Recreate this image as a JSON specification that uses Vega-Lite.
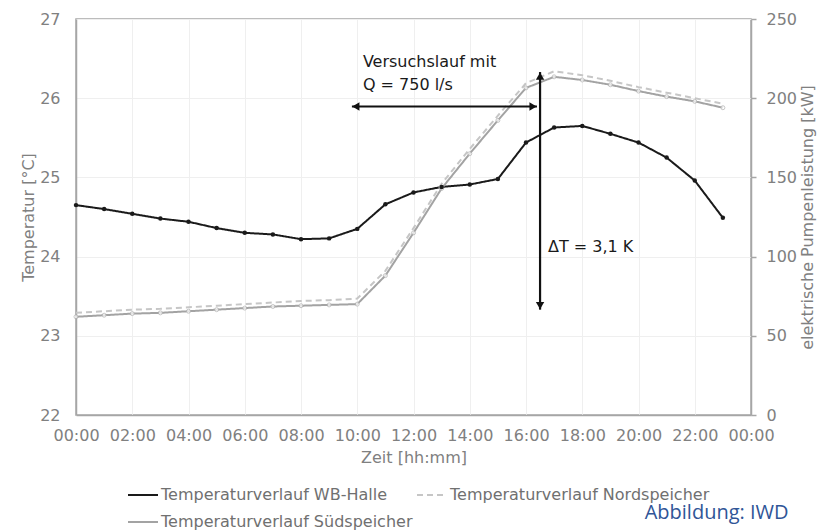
{
  "$schema": "https://vega.github.io/schema/vega-lite/v6.json",
  "width": 675,
  "height": 396,
  "autosize": {"type": "none"},
  "padding": {"left": 76, "top": 19, "right": 77, "bottom": 116},
  "background": "white",
  "title": {
    "text": "Abbildung: IWD",
    "orient": "bottom",
    "anchor": "end",
    "font": "Open Sans",
    "fontSize": 20,
    "fontWeight": "normal",
    "color": "#2f5597",
    "offset": 0,
    "dy": -27,
    "dx": -27
  },
  "config": {
    "font": "DejaVu Sans",
    "view": {"stroke": "#a6a6a6", "strokeWidth": 1.5},
    "axis": {
      "labelFont": "DejaVu Sans",
      "titleFont": "DejaVu Sans",
      "labelFontSize": 16,
      "titleFontSize": 16,
      "labelColor": "#808080",
      "titleColor": "#808080",
      "titleFontWeight": "normal",
      "domainColor": "#a6a6a6",
      "domainWidth": 1.5,
      "gridColor": "#efefef",
      "gridWidth": 1,
      "tickColor": "#a6a6a6",
      "tickWidth": 1.5
    },
    "legend": {
      "orient": "none",
      "legendX": 51,
      "legendY": 460,
      "columns": 2,
      "symbolType": "stroke",
      "symbolSize": 900,
      "symbolStrokeWidth": 2,
      "labelFont": "DejaVu Sans",
      "labelFontSize": 16,
      "labelColor": "#707070",
      "labelOffset": 2,
      "labelLimit": 400,
      "columnPadding": 0,
      "rowPadding": 3
    }
  },
  "datasets": {
    "temps": [
      {"h": 0, "serie": "Temperaturverlauf WB-Halle", "t": 24.65},
      {"h": 1, "serie": "Temperaturverlauf WB-Halle", "t": 24.60},
      {"h": 2, "serie": "Temperaturverlauf WB-Halle", "t": 24.54},
      {"h": 3, "serie": "Temperaturverlauf WB-Halle", "t": 24.48},
      {"h": 4, "serie": "Temperaturverlauf WB-Halle", "t": 24.44},
      {"h": 5, "serie": "Temperaturverlauf WB-Halle", "t": 24.36},
      {"h": 6, "serie": "Temperaturverlauf WB-Halle", "t": 24.30},
      {"h": 7, "serie": "Temperaturverlauf WB-Halle", "t": 24.28},
      {"h": 8, "serie": "Temperaturverlauf WB-Halle", "t": 24.22},
      {"h": 9, "serie": "Temperaturverlauf WB-Halle", "t": 24.23},
      {"h": 10, "serie": "Temperaturverlauf WB-Halle", "t": 24.35},
      {"h": 11, "serie": "Temperaturverlauf WB-Halle", "t": 24.66},
      {"h": 12, "serie": "Temperaturverlauf WB-Halle", "t": 24.81},
      {"h": 13, "serie": "Temperaturverlauf WB-Halle", "t": 24.88},
      {"h": 14, "serie": "Temperaturverlauf WB-Halle", "t": 24.91},
      {"h": 15, "serie": "Temperaturverlauf WB-Halle", "t": 24.98},
      {"h": 16, "serie": "Temperaturverlauf WB-Halle", "t": 25.44},
      {"h": 17, "serie": "Temperaturverlauf WB-Halle", "t": 25.63},
      {"h": 18, "serie": "Temperaturverlauf WB-Halle", "t": 25.65},
      {"h": 19, "serie": "Temperaturverlauf WB-Halle", "t": 25.55},
      {"h": 20, "serie": "Temperaturverlauf WB-Halle", "t": 25.44},
      {"h": 21, "serie": "Temperaturverlauf WB-Halle", "t": 25.25},
      {"h": 22, "serie": "Temperaturverlauf WB-Halle", "t": 24.96},
      {"h": 23, "serie": "Temperaturverlauf WB-Halle", "t": 24.49},
      {"h": 0, "serie": "Temperaturverlauf Nordspeicher", "t": 23.29},
      {"h": 1, "serie": "Temperaturverlauf Nordspeicher", "t": 23.31},
      {"h": 2, "serie": "Temperaturverlauf Nordspeicher", "t": 23.33},
      {"h": 3, "serie": "Temperaturverlauf Nordspeicher", "t": 23.34},
      {"h": 4, "serie": "Temperaturverlauf Nordspeicher", "t": 23.36},
      {"h": 5, "serie": "Temperaturverlauf Nordspeicher", "t": 23.38},
      {"h": 6, "serie": "Temperaturverlauf Nordspeicher", "t": 23.40},
      {"h": 7, "serie": "Temperaturverlauf Nordspeicher", "t": 23.42},
      {"h": 8, "serie": "Temperaturverlauf Nordspeicher", "t": 23.44},
      {"h": 9, "serie": "Temperaturverlauf Nordspeicher", "t": 23.45},
      {"h": 10, "serie": "Temperaturverlauf Nordspeicher", "t": 23.47},
      {"h": 11, "serie": "Temperaturverlauf Nordspeicher", "t": 23.82},
      {"h": 12, "serie": "Temperaturverlauf Nordspeicher", "t": 24.36},
      {"h": 13, "serie": "Temperaturverlauf Nordspeicher", "t": 24.92},
      {"h": 14, "serie": "Temperaturverlauf Nordspeicher", "t": 25.36},
      {"h": 15, "serie": "Temperaturverlauf Nordspeicher", "t": 25.78},
      {"h": 16, "serie": "Temperaturverlauf Nordspeicher", "t": 26.19},
      {"h": 17, "serie": "Temperaturverlauf Nordspeicher", "t": 26.34},
      {"h": 18, "serie": "Temperaturverlauf Nordspeicher", "t": 26.29},
      {"h": 19, "serie": "Temperaturverlauf Nordspeicher", "t": 26.22},
      {"h": 20, "serie": "Temperaturverlauf Nordspeicher", "t": 26.14},
      {"h": 21, "serie": "Temperaturverlauf Nordspeicher", "t": 26.07},
      {"h": 22, "serie": "Temperaturverlauf Nordspeicher", "t": 26.00},
      {"h": 23, "serie": "Temperaturverlauf Nordspeicher", "t": 25.93},
      {"h": 0, "serie": "Temperaturverlauf Südspeicher", "t": 23.24},
      {"h": 1, "serie": "Temperaturverlauf Südspeicher", "t": 23.26},
      {"h": 2, "serie": "Temperaturverlauf Südspeicher", "t": 23.28},
      {"h": 3, "serie": "Temperaturverlauf Südspeicher", "t": 23.29},
      {"h": 4, "serie": "Temperaturverlauf Südspeicher", "t": 23.31},
      {"h": 5, "serie": "Temperaturverlauf Südspeicher", "t": 23.33},
      {"h": 6, "serie": "Temperaturverlauf Südspeicher", "t": 23.35},
      {"h": 7, "serie": "Temperaturverlauf Südspeicher", "t": 23.37},
      {"h": 8, "serie": "Temperaturverlauf Südspeicher", "t": 23.38},
      {"h": 9, "serie": "Temperaturverlauf Südspeicher", "t": 23.39},
      {"h": 10, "serie": "Temperaturverlauf Südspeicher", "t": 23.40},
      {"h": 11, "serie": "Temperaturverlauf Südspeicher", "t": 23.76},
      {"h": 12, "serie": "Temperaturverlauf Südspeicher", "t": 24.30},
      {"h": 13, "serie": "Temperaturverlauf Südspeicher", "t": 24.86},
      {"h": 14, "serie": "Temperaturverlauf Südspeicher", "t": 25.30},
      {"h": 15, "serie": "Temperaturverlauf Südspeicher", "t": 25.72},
      {"h": 16, "serie": "Temperaturverlauf Südspeicher", "t": 26.13},
      {"h": 17, "serie": "Temperaturverlauf Südspeicher", "t": 26.27},
      {"h": 18, "serie": "Temperaturverlauf Südspeicher", "t": 26.23},
      {"h": 19, "serie": "Temperaturverlauf Südspeicher", "t": 26.17},
      {"h": 20, "serie": "Temperaturverlauf Südspeicher", "t": 26.09},
      {"h": 21, "serie": "Temperaturverlauf Südspeicher", "t": 26.02},
      {"h": 22, "serie": "Temperaturverlauf Südspeicher", "t": 25.96},
      {"h": 23, "serie": "Temperaturverlauf Südspeicher", "t": 25.88}
    ],
    "arrows": [
      {"x1": 9.81, "x2": 16.39, "y1": 25.895, "y2": 25.895},
      {"x1": 16.5, "x2": 16.5, "y1": 26.33, "y2": 23.33}
    ],
    "heads": [
      {"x": 9.95, "y": 25.895, "dir": "triangle-left"},
      {"x": 16.25, "y": 25.895, "dir": "triangle-right"},
      {"x": 16.5, "y": 26.28, "dir": "triangle-up"},
      {"x": 16.5, "y": 23.38, "dir": "triangle-down"}
    ],
    "notes": [
      {"x": 10.2, "y": 26.46, "text": "Versuchslauf mit"},
      {"x": 10.2, "y": 26.17, "text": "Q = 750 l/s"},
      {"x": 16.78, "y": 24.12, "text": "ΔT = 3,1 K"}
    ],
    "power": [
      {"h": 0, "kw": 0},
      {"h": 24, "kw": 250}
    ]
  },
  "layer": [
    {
      "layer": [
        {
          "data": {"name": "temps"},
          "mark": {"type": "line", "strokeWidth": 2},
          "encoding": {
            "x": {
              "field": "h",
              "type": "quantitative",
              "scale": {"domain": [0, 24], "nice": false},
              "axis": {
                "values": [0, 2, 4, 6, 8, 10, 12, 14, 16, 18, 20, 22, 24],
                "labelExpr": "(datum.value % 24 < 10 ? '0' : '') + (datum.value % 24) + ':00'",
                "ticks": false,
                "labelPadding": 12,
                "labelFlush": false,
                "labelOverlap": false,
                "title": "Zeit [hh:mm]",
                "titlePadding": 6,
                "grid": true
              }
            },
            "y": {
              "field": "t",
              "type": "quantitative",
              "scale": {"domain": [22, 27], "nice": false, "zero": false},
              "axis": {
                "values": [22, 23, 24, 25, 26, 27],
                "format": "d",
                "ticks": false,
                "labelPadding": 16,
                "title": "Temperatur [°C]",
                "titlePadding": 3,
                "grid": true
              }
            },
            "color": {
              "field": "serie",
              "type": "nominal",
              "scale": {
                "domain": ["Temperaturverlauf WB-Halle", "Temperaturverlauf Südspeicher", "Temperaturverlauf Nordspeicher"],
                "range": ["#1a1a1a", "#a3a3a3", "#c6c6c6"]
              },
              "legend": {"title": null}
            },
            "strokeDash": {
              "field": "serie",
              "type": "nominal",
              "scale": {
                "domain": ["Temperaturverlauf WB-Halle", "Temperaturverlauf Südspeicher", "Temperaturverlauf Nordspeicher"],
                "range": [[1, 0], [1, 0], [6, 4]]
              },
              "legend": {"title": null}
            },
            "order": {"field": "h"}
          }
        },
        {
          "data": {"name": "temps"},
          "transform": [{"filter": "datum.serie === 'Temperaturverlauf Südspeicher'"}],
          "mark": {"type": "point", "shape": "circle", "filled": true, "fill": "white", "stroke": "#b0b0b0", "strokeWidth": 1, "size": 16},
          "encoding": {
            "x": {"field": "h", "type": "quantitative", "scale": {"domain": [0, 24], "nice": false}},
            "y": {"field": "t", "type": "quantitative", "scale": {"domain": [22, 27], "nice": false, "zero": false}}
          }
        },
        {
          "data": {"name": "temps"},
          "transform": [{"filter": "datum.serie === 'Temperaturverlauf WB-Halle'"}],
          "mark": {"type": "point", "shape": "circle", "filled": true, "color": "#1a1a1a", "size": 20, "opacity": 1},
          "encoding": {
            "x": {"field": "h", "type": "quantitative", "scale": {"domain": [0, 24], "nice": false}},
            "y": {"field": "t", "type": "quantitative", "scale": {"domain": [22, 27], "nice": false, "zero": false}}
          }
        },
        {
          "data": {"name": "arrows"},
          "mark": {"type": "rule", "color": "#111111", "strokeWidth": 2.2},
          "encoding": {
            "x": {"field": "x1", "type": "quantitative", "scale": {"domain": [0, 24], "nice": false}},
            "x2": {"field": "x2"},
            "y": {"field": "y1", "type": "quantitative", "scale": {"domain": [22, 27], "nice": false, "zero": false}},
            "y2": {"field": "y2"}
          }
        },
        {
          "data": {"name": "heads"},
          "mark": {"type": "point", "filled": true, "color": "#111111", "size": 70, "opacity": 1},
          "encoding": {
            "x": {"field": "x", "type": "quantitative", "scale": {"domain": [0, 24], "nice": false}},
            "y": {"field": "y", "type": "quantitative", "scale": {"domain": [22, 27], "nice": false, "zero": false}},
            "shape": {"field": "dir", "type": "nominal", "scale": null}
          }
        },
        {
          "data": {"name": "notes"},
          "mark": {"type": "text", "align": "left", "baseline": "middle", "fontSize": 16, "font": "DejaVu Sans", "color": "#1a1a1a"},
          "encoding": {
            "x": {"field": "x", "type": "quantitative", "scale": {"domain": [0, 24], "nice": false}},
            "y": {"field": "y", "type": "quantitative", "scale": {"domain": [22, 27], "nice": false, "zero": false}},
            "text": {"field": "text"}
          }
        }
      ]
    },
    {
      "data": {"name": "power"},
      "mark": {"type": "point", "opacity": 0},
      "encoding": {
        "x": {"field": "h", "type": "quantitative", "scale": {"domain": [0, 24], "nice": false}},
        "y": {
          "field": "kw",
          "type": "quantitative",
          "scale": {"domain": [0, 250], "nice": false},
          "axis": {
            "orient": "right",
            "values": [0, 50, 100, 150, 200, 250],
            "tickSize": 5,
            "labelPadding": 10,
            "title": "elektrische Pumpenleistung [kW]",
            "titleAngle": 270,
            "titleBaseline": "top",
            "titlePadding": 3,
            "grid": false
          }
        }
      }
    }
  ],
  "resolve": {"scale": {"y": "independent"}, "axis": {"y": "independent"}}
}
